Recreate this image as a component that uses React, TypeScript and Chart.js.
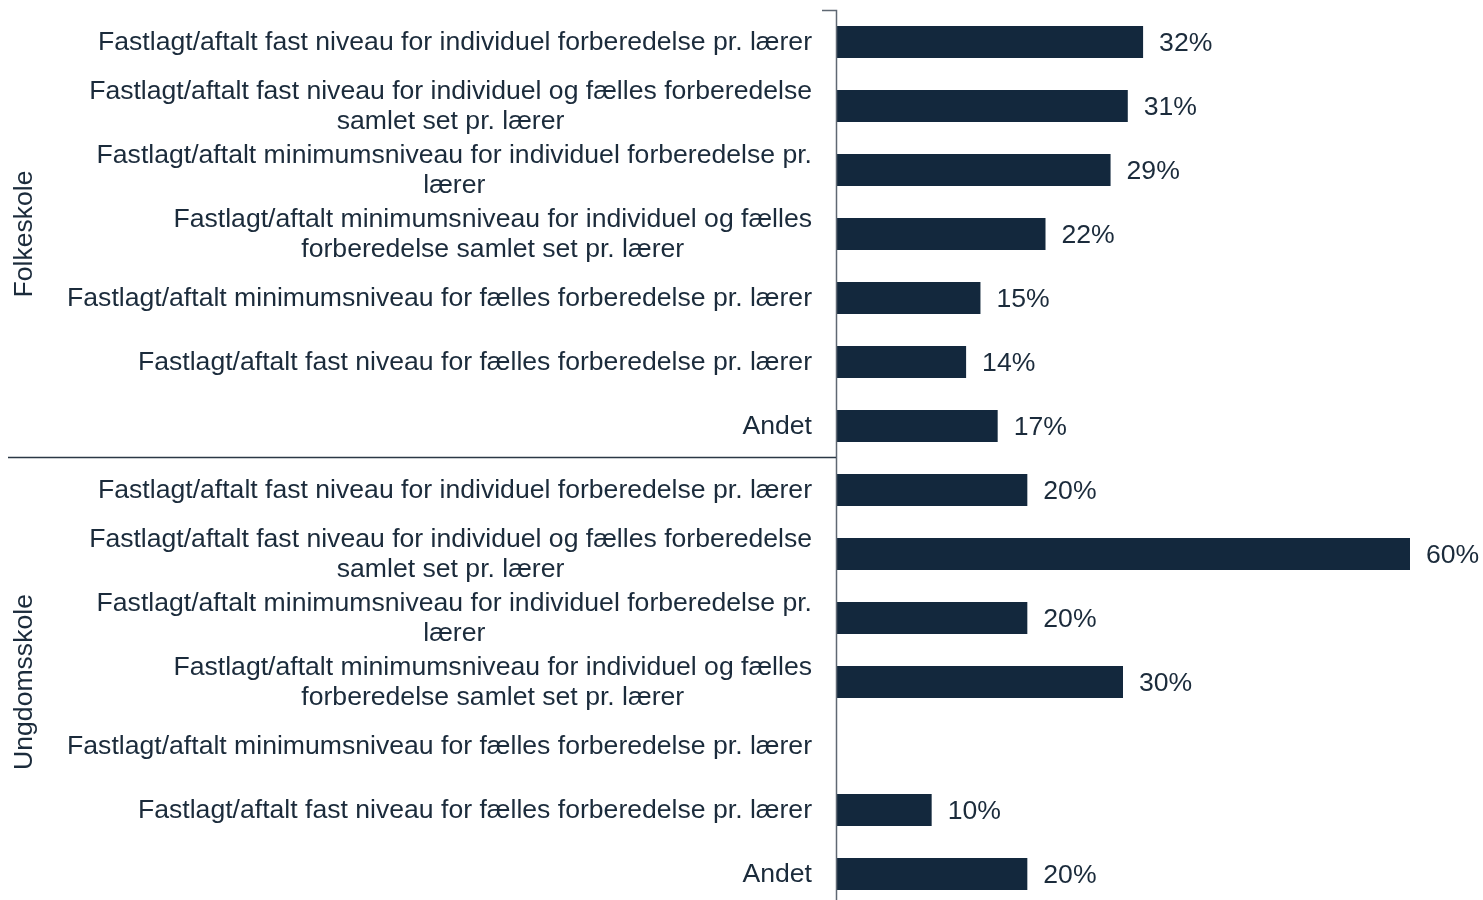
import React, { useEffect, useRef } from "react";
import { Chart, registerables } from "chart.js";

Chart.register(...registerables);

const groups = ["Folkeskole", "Ungdomsskole"];

const categoryLabels: string[][] = [
  ["Fastlagt/aftalt fast niveau for individuel forberedelse pr. lærer"],
  ["Fastlagt/aftalt fast niveau for individuel og fælles forberedelse", "samlet set pr. lærer"],
  ["Fastlagt/aftalt minimumsniveau for individuel forberedelse pr.", "lærer"],
  ["Fastlagt/aftalt minimumsniveau for individuel og fælles", "forberedelse samlet set pr. lærer"],
  ["Fastlagt/aftalt minimumsniveau for fælles forberedelse pr. lærer"],
  ["Fastlagt/aftalt fast niveau for fælles forberedelse pr. lærer"],
  ["Andet"],
];

const folkeskoleValues: (number | null)[] = [32.1, 30.5, 28.7, 21.9, 15.1, 13.6, 16.9];
const ungdomsskoleValues: (number | null)[] = [20, 60, 20, 30, null, 10, 20];

const xMin = 0;
const xMax = 60;

const BAR = "#13283d";
const TEXT = "#1b2b3b";
const FONT = "26.6px 'Liberation Sans', Arial, sans-serif";

export default function App() {
  const ref = useRef<HTMLCanvasElement | null>(null);

  useEffect(() => {
    if (!ref.current) return;
    const allLabels = [...categoryLabels, ...categoryLabels];
    const labels = allLabels.map((_, i) => `${i}`);
    const values = [...folkeskoleValues, ...ungdomsskoleValues];
    const perGroup = categoryLabels.length;

    const overlay = {
      id: "overlay",
      afterDatasetsDraw(chart: any) {
        const ctx = chart.ctx as CanvasRenderingContext2D;
        const area = chart.chartArea;
        const y = chart.scales.y;
        const step = y.getPixelForValue(1) - y.getPixelForValue(0);
        ctx.save();
        ctx.font = FONT;
        ctx.fillStyle = TEXT;
        ctx.textBaseline = "middle";
        // category labels
        allLabels.forEach((lines, i) => {
          const cy = y.getPixelForValue(i) + 1;
          const right = area.left - 24;
          const w = Math.max(...lines.map((l) => ctx.measureText(l).width));
          const cx = right - w / 2;
          ctx.textAlign = "center";
          const lh = 30;
          lines.forEach((l, k) => {
            const ly = cy + (k - (lines.length - 1) / 2) * lh;
            ctx.fillText(l, cx, ly);
          });
        });
        // value labels
        const meta = chart.getDatasetMeta(0);
        ctx.textAlign = "left";
        meta.data.forEach((el: any, i: number) => {
          const v = values[i];
          if (v === null || v === undefined) return;
          ctx.fillText(`${Math.round(v)}%`, el.x + 16, el.y + 1.5);
        });
        // group labels
        groups.forEach((g, gi) => {
          const top = y.getPixelForValue(gi * perGroup) - step / 2;
          const bottom = y.getPixelForValue(gi * perGroup + perGroup - 1) + step / 2;
          ctx.save();
          ctx.translate(25, (top + bottom) / 2);
          ctx.rotate(-Math.PI / 2);
          ctx.textAlign = "center";
          ctx.fillText(g, 0, 0);
          ctx.restore();
        });
        // axis line
        ctx.strokeStyle = "#5f6873";
        ctx.lineWidth = 1.5;
        ctx.beginPath();
        ctx.moveTo(area.left - 14, area.top + 0.5);
        ctx.lineTo(area.left + 0.5, area.top + 0.5);
        ctx.lineTo(area.left + 0.5, area.bottom);
        ctx.stroke();
        // separator
        const sepY = Math.round(y.getPixelForValue(perGroup - 1) + step / 2) - 0.5;
        ctx.strokeStyle = "#2b3846";
        ctx.lineWidth = 1.5;
        ctx.beginPath();
        ctx.moveTo(8, sepY);
        ctx.lineTo(area.left, sepY);
        ctx.stroke();
        ctx.restore();
      },
    };

    const chart = new Chart(ref.current, {
      type: "bar",
      data: {
        labels,
        datasets: [
          {
            data: values,
            backgroundColor: BAR,
            barPercentage: 0.5,
            categoryPercentage: 1,
          },
        ],
      },
      options: {
        indexAxis: "y",
        animation: false,
        responsive: false,
        devicePixelRatio: 1,
        layout: { padding: { left: 836, right: 73, top: 10, bottom: 6 } },
        plugins: { legend: { display: false }, tooltip: { enabled: false } },
        scales: {
          x: { display: false, min: xMin, max: xMax },
          y: { display: false, offset: true },
        },
      },
      plugins: [overlay],
    });
    return () => chart.destroy();
  }, []);

  return (
    <div style={{ position: "fixed", left: 0, top: 0, width: 1483, height: 912, background: "#fff" }}>
      <canvas ref={ref} width={1483} height={912} style={{ width: 1483, height: 912 }} />
    </div>
  );
}
